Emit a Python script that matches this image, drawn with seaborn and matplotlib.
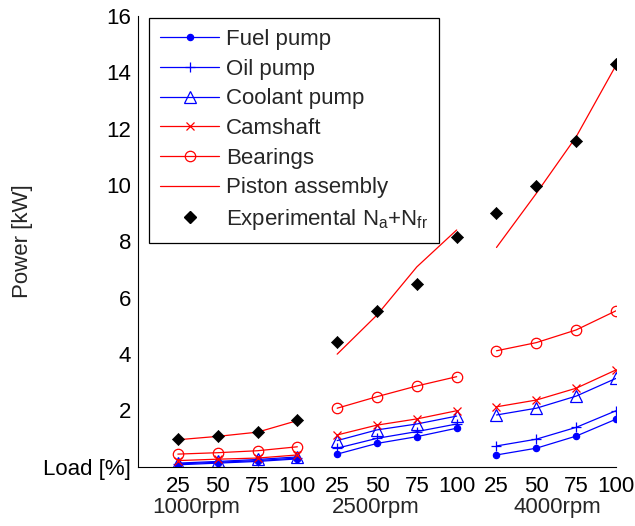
import matplotlib
matplotlib.use("Agg")
import matplotlib.pyplot as plt
import seaborn as sns
import pandas as pd
from matplotlib.lines import Line2D
from matplotlib.transforms import blended_transform_factory

# ---------------- data ----------------
loads = [25, 50, 75, 100]
speeds = ["1000rpm", "2500rpm", "4000rpm"]

fuel_pump    = [0.06, 0.12, 0.18, 0.27, 0.44, 0.82, 1.06, 1.36, 0.41, 0.65, 1.08, 1.68]
oil_pump     = [0.09, 0.15, 0.21, 0.30, 0.65, 1.00, 1.24, 1.51, 0.73, 0.97, 1.39, 1.98]
coolant_pump = [0.12, 0.18, 0.25, 0.34, 0.92, 1.30, 1.51, 1.79, 1.83, 2.07, 2.50, 3.13]
camshaft     = [0.21, 0.26, 0.30, 0.41, 1.12, 1.47, 1.69, 1.98, 2.12, 2.36, 2.78, 3.43]
bearings     = [0.44, 0.49, 0.56, 0.70, 2.07, 2.48, 2.86, 3.19, 4.11, 4.40, 4.85, 5.53]
piston       = [0.95, 1.07, 1.22, 1.63, 3.99, 5.38, 7.09, 8.40, 7.78, 9.70, 11.71, 14.25]
experimental = [0.97, 1.08, 1.22, 1.65, 4.43, 5.53, 6.47, 8.16, 9.01, 9.96, 11.57, 14.29]

y_ticks = [0, 2, 4, 6, 8, 10, 12, 14, 16]
y_tick_labels = ["Load [%]", "2", "4", "6", "8", "10", "12", "14", "16"]

# ---------------- style ----------------
sns.set_style("white")
plt.rcParams["font.family"] = ["Liberation Sans", "DejaVu Sans"]
plt.rcParams["mathtext.fontset"] = "custom"
plt.rcParams["mathtext.rm"] = "Liberation Sans"
plt.rcParams["mathtext.it"] = "Liberation Sans:italic"
plt.rcParams["mathtext.default"] = "regular"
FS = 16

rows = []
series = [
    ("Fuel pump", fuel_pump),
    ("Oil pump", oil_pump),
    ("Coolant pump", coolant_pump),
    ("Camshaft", camshaft),
    ("Bearings", bearings),
    ("Piston assembly", piston),
]
for name, vals in series:
    for gi, sp in enumerate(speeds):
        for li, ld in enumerate(loads):
            rows.append({"component": name, "speed": sp, "load": ld,
                         "pos": gi * len(loads) + li + 1,
                         "value": vals[gi * len(loads) + li]})
df = pd.DataFrame(rows)
pos_all = [gi * len(loads) + li + 1 for gi in range(len(speeds)) for li in range(len(loads))]
exp_df = pd.DataFrame({"pos": pos_all, "value": experimental})

styles = {
    "Fuel pump":       dict(color="blue", marker="o", markersize=4.5, markerfacecolor="blue"),
    "Oil pump":        dict(color="blue", marker="+", markersize=7.5, markerfacecolor="blue"),
    "Coolant pump":    dict(color="blue", marker="^", markersize=8, markerfacecolor="none"),
    "Camshaft":        dict(color="red", marker="x", markersize=6, markerfacecolor="red"),
    "Bearings":        dict(color="red", marker="o", markersize=7.5, markerfacecolor="none"),
    "Piston assembly": dict(color="red", marker=None, markersize=0, markerfacecolor="red"),
}

fig = plt.figure(figsize=(6.35, 5.26), dpi=100)
ax = fig.add_axes([138 / 635, 1 - 466.5 / 526, 478 / 635, 450.5 / 526])

handles = []
for name, _ in series:
    st = styles[name]
    sub = df[df["component"] == name]
    kw = dict(color=st["color"], linewidth=0.9)
    if st["marker"] is not None:
        kw.update(marker=st["marker"], markersize=st["markersize"],
                  markerfacecolor=st["markerfacecolor"],
                  markeredgecolor=st["color"], markeredgewidth=0.9)
    sns.lineplot(data=sub, x="pos", y="value", units="speed", estimator=None,
                 sort=False, ax=ax, legend=False, **kw)
    handles.append(Line2D([], [], label=name, **kw))

sns.scatterplot(data=exp_df, x="pos", y="value", marker="D", s=38, color="black",
                edgecolor="black", linewidth=0.5, ax=ax, legend=False, zorder=5)
handles.append(Line2D([], [], linestyle="none", marker="D", markersize=6,
                      color="black", label="Experimental N$_a$+N$_{fr}$"))

ax.set_xlim(0, 12)
ax.set_ylim(0, 16)
ax.set_xticks(pos_all)
ax.set_xticklabels([str(l) for _ in speeds for l in loads])
ax.set_yticks(y_ticks)
ax.set_yticklabels(y_tick_labels)
ax.set_xlabel("")
ax.set_ylabel("Power [kW]", fontsize=FS)
ax.yaxis.set_label_coords(-0.219, 0.5)
sns.despine(ax=ax)
for s in ["left", "bottom"]:
    ax.spines[s].set_color("black")
    ax.spines[s].set_linewidth(0.8)
ax.tick_params(axis="both", direction="in", length=3.5, width=0.8,
               colors="black", labelsize=FS)
ax.tick_params(axis="x", pad=6.5)
ax.tick_params(axis="y", pad=5)

trans = blended_transform_factory(ax.transData, ax.transAxes)
for sp, xc in zip(speeds, [1.46, 5.98, 10.52]):
    ax.text(xc, -0.1032, sp, transform=trans, ha="center", va="baseline", fontsize=FS)

leg = ax.legend(handles=handles, loc="upper left", bbox_to_anchor=(0.023, 0.9956),
                borderaxespad=0, fontsize=FS, frameon=True, fancybox=False,
                handlelength=2.66, handletextpad=0.32, labelspacing=0.39,
                borderpad=0.5)
leg.get_frame().set_edgecolor("black")
leg.get_frame().set_linewidth(0.9)
leg.get_frame().set_alpha(1)

fig.savefig("out.png", dpi=100)
